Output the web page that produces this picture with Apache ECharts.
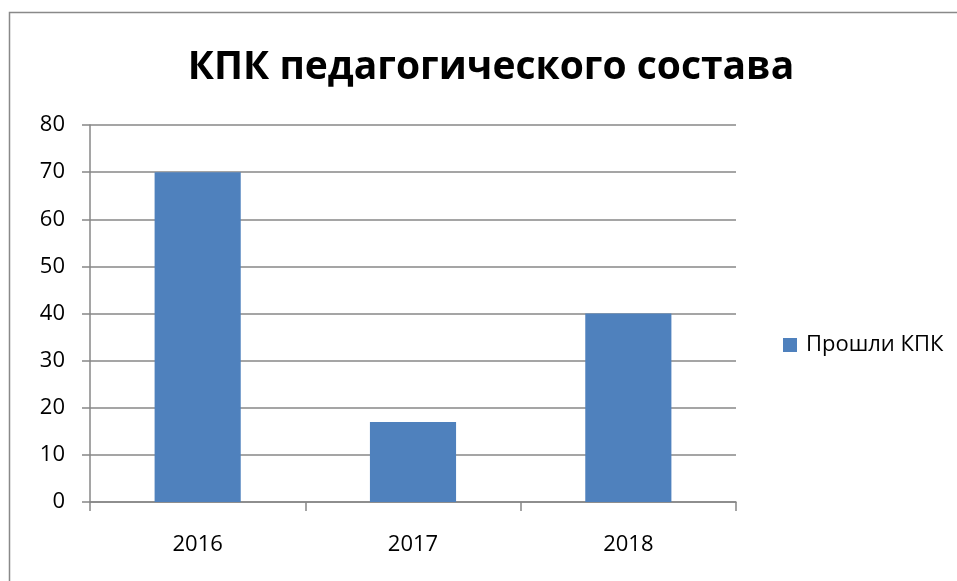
<!DOCTYPE html>
<html><head><meta charset="utf-8">
<script src="https://cdn.jsdelivr.net/npm/echarts@6/dist/echarts.min.js"></script>
<style>html,body{margin:0;padding:0;background:#fff}#c{width:957px;height:581px}</style>
</head><body><div id="c"></div>
<script>
const categories = ['2016', '2017', '2018'];
const seriesName = 'Прошли КПК';
const values = [70, 17, 40];
const titleText = 'КПК педагогического состава';

const chart = echarts.init(document.getElementById('c'));
chart.setOption({
  animation: false,
  backgroundColor: '#fff',
  textStyle: { fontFamily: 'Open Sans' },
  graphic: [{
    type: 'rect', shape: { x: 9.5, y: 12.5, width: 1000, height: 1000 },
    style: { fill: 'none', stroke: '#898989', lineWidth: 1.5 }, silent: true
  }],
  title: {
    text: titleText, left: 486, top: 43, textAlign: 'center',
    textStyle: { fontFamily: 'Open Sans', fontWeight: 'bold', fontSize: 39, color: '#000' }
  },
  legend: {
    data: [seriesName], left: 778, top: 329, itemWidth: 14, itemHeight: 14, itemGap: 8,
    icon: 'rect',
    textStyle: { fontFamily: 'Open Sans', fontSize: 22, color: '#000', padding: [0, 0, 0, 4] }
  },
  grid: { left: 90, right: 957 - 736, top: 125, bottom: 581 - 502, containLabel: false },
  xAxis: {
    type: 'category', data: categories,
    axisLine: { lineStyle: { color: '#878787', width: 1.5 } },
    axisTick: { show: true, length: 9, lineStyle: { color: '#878787', width: 1.5 } },
    axisLabel: { margin: 32, fontSize: 22, color: '#000', fontFamily: 'Open Sans' }
  },
  yAxis: {
    type: 'value', min: 0, max: 80, interval: 10,
    axisLine: { show: true, lineStyle: { color: '#878787', width: 1.5 } },
    axisTick: { show: true, length: 8, lineStyle: { color: '#878787', width: 1.5 } },
    splitLine: { lineStyle: { color: '#878787', width: 1.5 } },
    axisLabel: { margin: 25, fontSize: 22, color: '#000', fontFamily: 'Open Sans' }
  },
  series: [{
    name: seriesName, type: 'bar', data: values, barWidth: '40%',
    itemStyle: { color: '#4F81BD' }
  }]
});
</script></body></html>
